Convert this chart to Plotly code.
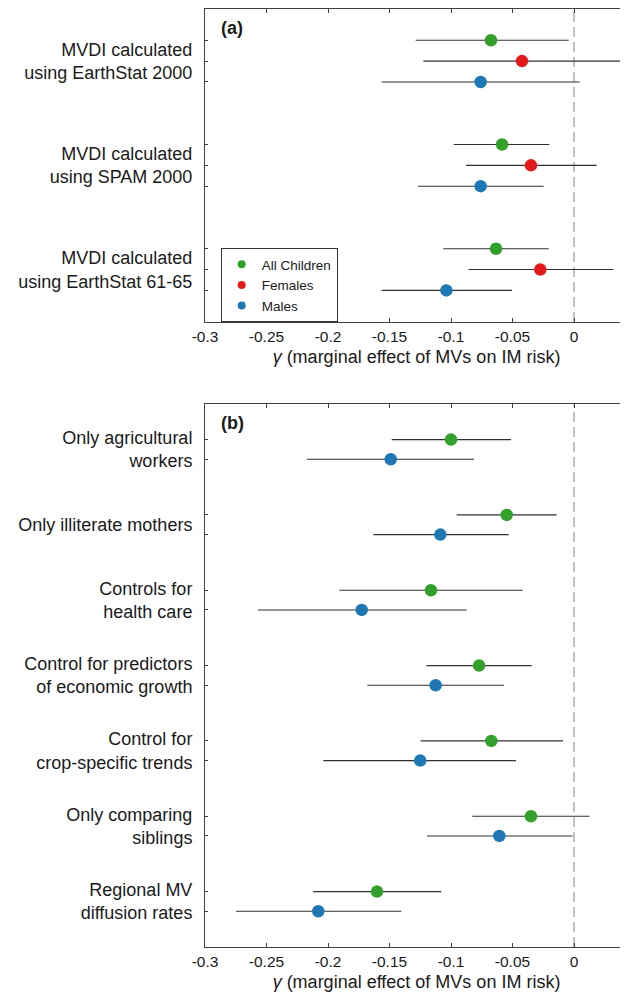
import plotly.graph_objects as go

# ---------------- data ----------------
cats_a = ["MVDI calculated<br>using EarthStat 2000",
          "MVDI calculated<br>using SPAM 2000",
          "MVDI calculated<br>using EarthStat 61-65"]
all_a = [-0.0675, -0.0585, -0.0634]
all_a_lo = [-0.1287, -0.0978, -0.1062]
all_a_hi = [-0.0043, -0.0201, -0.0206]
fem_a = [-0.0423, -0.0350, -0.0274]
fem_a_lo = [-0.1225, -0.0878, -0.0856]
fem_a_hi = [0.0396, 0.0184, 0.0322]
male_a = [-0.0759, -0.0759, -0.1038]
male_a_lo = [-0.1564, -0.1268, -0.1564]
male_a_hi = [0.0046, -0.0247, -0.0504]

cats_b = ["Only agricultural<br>workers",
          "Only illiterate mothers",
          "Controls for<br>health care",
          "Control for predictors<br>of economic growth",
          "Control for<br>crop-specific trends",
          "Only comparing<br>siblings",
          "Regional MV<br>diffusion rates"]
all_b = [-0.1000, -0.0547, -0.1163, -0.0772, -0.0672, -0.0350, -0.1602]
all_b_lo = [-0.1482, -0.0954, -0.1908, -0.1200, -0.1247, -0.0827, -0.2119]
all_b_hi = [-0.0512, -0.0141, -0.0417, -0.0344, -0.0089, 0.0125, -0.1079]
male_b = [-0.1490, -0.1087, -0.1726, -0.1125, -0.1250, -0.0607, -0.2079]
male_b_lo = [-0.2173, -0.1631, -0.2569, -0.1680, -0.2038, -0.1195, -0.2748]
male_b_hi = [-0.0813, -0.0531, -0.0873, -0.0569, -0.0472, -0.0011, -0.1404]

x_ticks = [-0.3, -0.25, -0.2, -0.15, -0.1, -0.05, 0]
x_ticktext = ["-0.3", "-0.25", "-0.2", "-0.15", "-0.1", "-0.05", "0"]

series_names = ["All Children", "Females", "Males"]
colors = {"All Children": "#33a02c", "Females": "#e31a1c", "Males": "#1f78b4"}

# ---------------- layout helpers ----------------
FONT = "Liberation Sans, Arial, Helvetica, sans-serif"
TXT = "#1a1a1a"
AX = "#404040"

centers_a = [5 * i + 1 for i in range(len(cats_a))]
centers_b = [4 * i for i in range(len(cats_b))]
off_a = {"All Children": -1, "Females": 0, "Males": 1}
off_b = {"All Children": -0.523, "Males": 0.523}

fig = go.Figure()


def add_series(name, vals, lo, hi, ypos, xa, ya):
    fig.add_trace(go.Scatter(
        x=vals, y=ypos, mode="markers", name=name, showlegend=False,
        xaxis=xa, yaxis=ya,
        marker=dict(size=12.5, color=colors[name], line=dict(width=0)),
        error_x=dict(type="data", symmetric=False,
                     array=[h - v for h, v in zip(hi, vals)],
                     arrayminus=[v - l for v, l in zip(vals, lo)],
                     color="#303030", thickness=1.1, width=0),
    ))


for name, v, lo, hi in [("All Children", all_a, all_a_lo, all_a_hi),
                        ("Females", fem_a, fem_a_lo, fem_a_hi),
                        ("Males", male_a, male_a_lo, male_a_hi)]:
    add_series(name, v, lo, hi, [c + off_a[name] for c in centers_a], "x", "y")

for name, v, lo, hi in [("All Children", all_b, all_b_lo, all_b_hi),
                        ("Males", male_b, male_b_lo, male_b_hi)]:
    add_series(name, v, lo, hi, [c + off_b[name] for c in centers_b], "x2", "y2")

# legend-only traces (small symbols as in reference)
for name in series_names:
    fig.add_trace(go.Scatter(x=[None], y=[None], mode="markers", name=name,
                             marker=dict(size=8, color=colors[name]),
                             xaxis="x", yaxis="y", showlegend=True))

# page body has an 8px margin, so figure coordinates = page coordinates - 8
OFF = 8
W, H = 628 - OFF, 1001 - 2 * OFF
top_a, bot_a = 9 - OFF, 322 - OFF
top_b, bot_b = 404.3 - OFF, 946.7 - OFF
ml, mr, mt, mb = 205 - OFF, 0, top_a, H - bot_b
plot_h = H - mt - mb


def dom(top, bot):
    return [(H - mb - bot) / plot_h, (H - mb - top) / plot_h]


xaxis_common = dict(
    range=[-0.3, 0.0439], tickvals=x_ticks, ticktext=x_ticktext,
    ticks="inside", ticklen=4, tickcolor=AX, tickwidth=1,
    showline=True, linecolor=AX, linewidth=1, mirror="ticks",
    showgrid=False, zeroline=False,
    tickfont=dict(family=FONT, size=15.5, color=TXT),
    title=dict(text="<i>γ</i> (marginal effect of MVs on IM risk)",
               font=dict(family=FONT, size=18, color=TXT), standoff=6),
    automargin=False,
)

yaxis_common = dict(
    ticks="", showline=True, linecolor=AX, linewidth=1, mirror=False,
    showgrid=False, zeroline=False,
    tickfont=dict(family=FONT, size=18, color=TXT),
    ticklabelstandoff=8, automargin=False,
)

fig.update_layout(
    width=W, height=H,
    margin=dict(l=ml, r=mr, t=mt, b=mb, pad=0),
    paper_bgcolor="white", plot_bgcolor="white",
    font=dict(family=FONT, color=TXT),
    xaxis=dict(**xaxis_common, domain=[0, 1], anchor="y"),
    xaxis2=dict(**xaxis_common, domain=[0, 1], anchor="y2"),
    yaxis=dict(**yaxis_common, domain=dom(top_a, bot_a), anchor="x",
               range=[13.52, -1.5], tickvals=centers_a, ticktext=cats_a,
               minor=dict(tickvals=[c + o for c in centers_a for o in off_a.values()],
                          ticks="inside", ticklen=3, tickcolor=AX, showgrid=False)),
    yaxis2=dict(**yaxis_common, domain=dom(top_b, bot_b), anchor="x2",
                range=[26.42, -2.39], tickvals=centers_b, ticktext=cats_b,
                minor=dict(tickvals=[c + o for c in centers_b for o in off_b.values()],
                           ticks="inside", ticklen=3, tickcolor=AX, showgrid=False)),
    legend=dict(x=(220.7 - OFF - ml) / (W - ml - mr),
                y=dom(top_a, bot_a)[0] + (bot_a - (248 - OFF)) / plot_h,
                xref="paper", yref="paper", xanchor="left", yanchor="top",
                bordercolor="#333333", borderwidth=1, bgcolor="white",
                font=dict(family=FONT, size=13.5, color=TXT),
                tracegroupgap=0, itemwidth=30),
    showlegend=True,
    shapes=[
        dict(type="line", xref="x", yref="y domain", x0=0, x1=0, y0=0, y1=1,
             line=dict(color="#9a9a9a", width=1.2, dash="10px,5px"), layer="below"),
        dict(type="line", xref="x2", yref="y2 domain", x0=0, x1=0, y0=0, y1=1,
             line=dict(color="#9a9a9a", width=1.2, dash="10px,5px"), layer="below"),
    ],
    annotations=[
        dict(text="<b>(a)</b>", xref="x domain", yref="y domain", x=14 / (W - ml),
             y=1 - (27.7 - OFF - top_a) / (bot_a - top_a),
             xanchor="left", yanchor="middle", showarrow=False,
             font=dict(family=FONT, size=18, color=TXT)),
        dict(text="<b>(b)</b>", xref="x2 domain", yref="y2 domain", x=14 / (W - ml),
             y=1 - (423.3 - OFF - top_b) / (bot_b - top_b),
             xanchor="left", yanchor="middle", showarrow=False,
             font=dict(family=FONT, size=18, color=TXT)),
    ],
)

fig.write_html("out.html")
